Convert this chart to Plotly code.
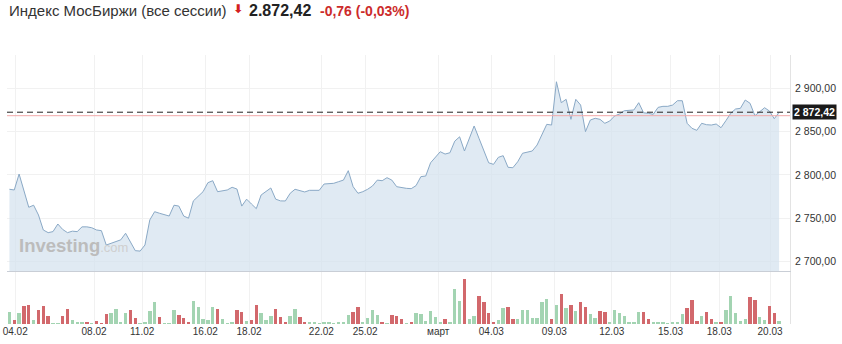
import plotly.graph_objects as go

# ---- data ----
price = [
    2783.4, 2782.6, 2801.0, 2783.0, 2762.6, 2765.0, 2753.7, 2736.4, 2733.3, 2734.5,
    2743.3, 2737.0, 2733.3, 2735.0, 2734.5, 2740.0, 2740.0, 2739.0, 2736.4, 2735.6,
    2719.0, 2721.0, 2723.0, 2725.0, 2732.6, 2723.0, 2712.5, 2712.0, 2719.0, 2748.0,
    2757.5, 2755.7, 2754.0, 2752.5, 2765.0, 2764.0, 2752.5, 2750.0, 2770.0, 2775.0,
    2780.6, 2791.0, 2793.3, 2780.6, 2781.8, 2782.6, 2785.7, 2783.7, 2764.0, 2772.0,
    2766.4, 2761.0, 2776.8, 2780.6, 2784.9, 2772.0, 2770.0, 2769.9, 2778.8, 2783.4,
    2781.4, 2780.3, 2782.2, 2782.2, 2782.2, 2789.5, 2790.3, 2790.3, 2792.2, 2794.0,
    2804.9, 2786.4, 2778.8, 2780.6, 2783.4, 2787.2, 2794.0, 2793.3, 2796.8, 2794.0,
    2786.4, 2785.3, 2784.5, 2784.1, 2787.6, 2798.0, 2798.7, 2814.0, 2820.3, 2826.8,
    2824.1, 2825.6, 2839.0, 2844.0, 2827.6, 2842.3, 2856.5, 2842.3, 2827.6, 2814.0,
    2812.2, 2820.3, 2822.2, 2808.8, 2808.3, 2815.2, 2825.0, 2826.0, 2827.6, 2834.5,
    2846.0, 2858.4, 2857.6, 2907.6, 2883.4, 2887.3, 2864.2, 2887.3, 2880.7, 2850.0,
    2863.4, 2865.4, 2864.2, 2859.6, 2862.2, 2868.0, 2870.3, 2874.1, 2874.6, 2875.0,
    2883.4, 2871.8, 2871.1, 2870.0, 2878.0, 2879.2, 2879.2, 2880.7, 2885.7, 2885.7,
    2859.6, 2853.8, 2851.5, 2859.6, 2858.0, 2857.6, 2858.8, 2854.5, 2862.6, 2871.1,
    2876.1, 2876.9, 2886.5, 2882.7, 2868.4, 2873.0, 2877.6, 2873.8, 2864.9, 2872.42,
]

volume = [
    11.7, 4.0, 10.7, 18.0, 18.7, 4.0, 13.7, 18.0, 8.3, 0.7,
    0.7, 8.3, 14.7, 4.0, 1.0, 2.3, 1.7, 0.5, 3.3, 0.7,
    9.7, 10.7, 14.7, 1.7, 10.7, 13.7, 6.3, 0.5, 1.3, 13.0,
    21.7, 7.3, 0.7, 0.7, 13.7, 9.0, 5.7, 2.3, 23.0, 17.0,
    4.7, 4.0, 17.0, 14.7, 4.7, 0.5, 2.3, 14.0, 12.3, 3.0,
    4.0, 18.7, 11.3, 4.0, 8.0, 14.7, 7.3, 2.3, 8.0, 14.7,
    6.7, 1.7, 1.3, 1.0, 0.5, 2.3, 1.0, 0.5, 1.7, 1.3,
    8.7, 12.3, 17.3, 1.7, 6.3, 13.7, 9.0, 1.7, 0.5, 9.0,
    8.3, 4.7, 0.5, 2.3, 11.3, 9.7, 3.3, 13.0, 6.7, 2.3,
    4.7, 1.7, 34.7, 23.0, 45.0, 4.7, 8.0, 28.0, 22.3, 11.3,
    1.7, 4.0, 16.3, 17.3, 5.0, 4.7, 14.0, 14.0, 6.3, 6.3,
    21.7, 25.3, 4.7, 19.0, 29.7, 15.7, 19.0, 13.3, 22.3, 17.3,
    9.7, 5.7, 13.3, 11.7, 2.3, 14.0, 11.3, 8.0, 1.7, 1.7,
    12.3, 11.7, 4.7, 1.3, 1.3, 1.3, 0.5, 1.3, 1.3, 9.7,
    16.3, 24.0, 3.0, 8.3, 11.7, 5.0, 1.3, 1.3, 14.0, 28.0,
    10.7, 3.3, 4.7, 27.3, 24.0, 7.3, 4.0, 18.3, 10.7, 3.0,
]

# "g" = session closed up (green bar), "r" = down (red bar)
direction = list(
    "grgrrgrrrg"
    "grrgggrgrr"
    "rggggrrggg"
    "grgggrrrgg"
    "gggrgggrrg"
    "rrgggrrrgg"
    "rrgggggggg"
    "grrggggrgr"
    "rrgrgggggg"
    "rgggrggrrr"
    "rggrrggggg"
    "ggrgrgrgrr"
    "ggrrgggggg"
    "grrggggggg"
    "rrrgrrgrgg"
    "gggrrggrrg"
)

last_price = 2872.42
ref_level = 2868.4

tick_positions = [1.2, 17.48, 27.42, 40.46, 49.5, 64.44, 73.49, 88.58,
                  99.55, 112.57, 124.43, 136.57, 146.65, 157.13]
tick_labels = ["04.02", "08.02", "11.02", "16.02", "18.02", "22.02", "25.02",
               "март", "04.03", "09.03", "12.03", "15.03", "18.03", "20.03"]
price_ticks = [2700, 2750, 2800, 2850, 2900]

title_text = "Индекс МосБиржи (все сессии)"
price_text = "2.872,42"
change_text = "-0,76 (-0,03%)"
last_label = "2 872,42"

# ---- figure ----
idx = list(range(len(price)))
n = len(idx)
vol = volume[:n]
dirs = (direction + ["g"] * n)[:n]
GREEN = "#a3d4b2"
RED = "#d2686c"
bar_colors = [GREEN if d == "g" else RED for d in dirs]

FONT = "Liberation Sans, Arial, sans-serif"
GRID = "#f1f1f1"

fig = go.Figure()

fig.add_trace(go.Scatter(
    x=idx, y=price, mode="lines",
    line=dict(color="#8aa9c6", width=1),
    fill="tozeroy", fillcolor="rgba(212,226,239,0.72)",
    xaxis="x2", yaxis="y2", hoverinfo="skip", showlegend=False,
))

fig.add_trace(go.Bar(
    x=idx, y=vol, marker=dict(color=bar_colors, line=dict(width=0)),
    width=0.7, xaxis="x", yaxis="y", hoverinfo="skip", showlegend=False,
))

x_range = [-0.5, 161.25]
split = 0.197

fig.update_layout(
    width=842, height=344,
    margin=dict(l=3, r=52, t=55, b=20),
    paper_bgcolor="white", plot_bgcolor="white",
    separators=", ",
    font=dict(family=FONT, size=10, color="#333333"),
    xaxis=dict(
        domain=[0, 1], range=x_range, anchor="y",
        tickmode="array", tickvals=tick_positions, ticktext=tick_labels,
        showgrid=True, gridcolor=GRID, gridwidth=1,
        zeroline=False, showline=False, ticks="",
        ticklabeloverflow="allow",
        tickfont=dict(size=10, color="#333333"),
    ),
    yaxis=dict(
        domain=[0, split - 0.004], range=[0, 51.9], anchor="x",
        showgrid=False, zeroline=False, showticklabels=False,
        showline=True, linecolor="#e3e3e3", side="right", mirror=False,
    ),
    xaxis2=dict(
        domain=[0, 1], range=x_range, anchor="y2", matches="x",
        tickmode="array", tickvals=tick_positions,
        showticklabels=False, showgrid=True, gridcolor=GRID, gridwidth=1,
        zeroline=False, showline=True, linecolor="#c9ced6", ticks="",
    ),
    yaxis2=dict(
        domain=[split, 1], range=[2689, 2938.5], anchor="x2",
        side="right", tickmode="array", tickvals=price_ticks,
        tickformat=",.2f", showgrid=True, gridcolor=GRID, gridwidth=1,
        zeroline=False, showline=True, linecolor="#e3e3e3", ticks="",
        ticklabelstandoff=2,
        tickfont=dict(size=10.5, color="#333333"),
    ),
    bargap=0,
)

# reference lines
fig.add_shape(type="line", xref="paper", yref="y2", x0=0, x1=1,
              y0=ref_level, y1=ref_level,
              line=dict(color="#f2a9a9", width=1))
fig.add_shape(type="line", xref="paper", yref="y2", x0=0, x1=1,
              y0=last_price, y1=last_price,
              line=dict(color="#222222", width=1, dash="6px,4px"))

annotations = [
    dict(xref="paper", yref="y2", x=1.0025, y=last_price, xanchor="left",
         yanchor="middle", text="<b>" + last_label + "</b>", showarrow=False,
         bgcolor="#1a1a1a", font=dict(color="white", size=10.5, family=FONT),
         borderpad=1),
    dict(xref="paper", yref="paper", x=0.0, y=1.165, xanchor="left",
         yanchor="middle", text=title_text, showarrow=False,
         font=dict(size=15, color="#333333", family=FONT)),
    dict(xref="paper", yref="paper", x=(228 - 3) / 787, y=1.172, xanchor="left",
         yanchor="middle", text="<b>⬇</b>", showarrow=False,
         font=dict(size=12, color="#d42020", family="DejaVu Sans")),
    dict(xref="paper", yref="paper", x=(244 - 3) / 787, y=1.165, xanchor="left",
         yanchor="middle", text="<b>" + price_text + "</b>", showarrow=False,
         font=dict(size=16, color="#222222", family=FONT)),
    dict(xref="paper", yref="paper", x=(316 - 3) / 787, y=1.165, xanchor="left",
         yanchor="middle", text="<b>" + change_text + "</b>", showarrow=False,
         font=dict(size=14, color="#cc2b2b", family=FONT)),
    dict(xref="paper", yref="paper", x=(13 - 3) / 787, y=(324 - 245) / 269,
         xanchor="left", yanchor="middle",
         text="<b>Investing</b><span style='font-size:13px;color:#cfcfcf'>.com</span>",
         showarrow=False,
         font=dict(size=18.5, color="#bcbcbc", family=FONT)),
]
fig.update_layout(annotations=annotations)

fig.write_html("out.html", config={"displayModeBar": False})
